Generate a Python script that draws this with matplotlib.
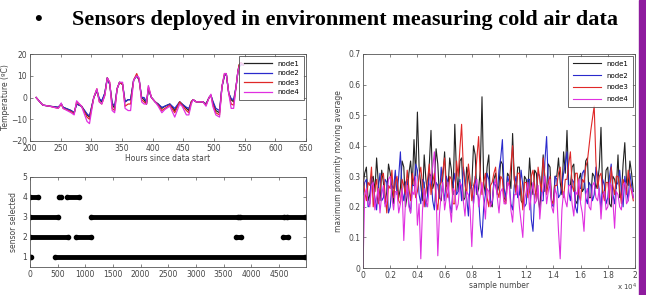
import matplotlib
matplotlib.use('Agg')
import matplotlib.pyplot as plt
from matplotlib.ticker import FuncFormatter, MultipleLocator

# --- temperature traces (top left) ---
hours = [210, 216, 221, 232, 246, 251, 254, 267, 272, 276, 284, 293, 297, 304, 309,
         313, 317, 322, 326, 330, 334, 338, 342, 346, 351, 355, 360, 364, 369, 374,
         378, 382, 386, 390, 393, 398, 404, 409, 415, 420, 428, 436, 444, 448, 455,
         459, 463, 466, 471, 482, 487, 492, 495, 498, 503, 509, 513, 517, 520, 524,
         528, 532, 536, 539, 541, 544, 548]
temp_node1 = [0, -2, -3.5, -4, -4.5, -3, -4.5, -6, -7, -3, -4, -8, -9, 0, 3, -1, -2, 2, 9, 6,
              -3, -5, 4, 7, 6, -2, -1, -1, 8, 10, 8, 0, -1, -3, 4, 0, -2, -3, -5, -4,
              -3, -6, -2, -3, -5, -6, -2, -1, -2, -2, -3, 0, 1, -2, -6, -7, 5, 10, 11, 2,
              -1, -2, 5, 12, 15, 16, 15]
temp_node2 = [0, -2, -3.5, -4, -4.5, -3, -4.5, -6, -7, -3, -4, -7.5, -8.5, 0, 3.5, -0.5, -1.5, 2, 9, 6,
              -2.5, -4, 4, 7, 6, -2, -1, -1, 8, 10, 8, 0, 0, -2, 4, 0, -2, -3, -4.5, -4,
              -3, -5, -2, -3, -4.5, -5, -2, -1, -2, -2, -3, 0, 1, -1.5, -5, -6, 5, 10, 11, 2,
              -0.5, -1, 5, 12, 14, 15, 15]
temp_node3 = [0, -2, -3.5, -4, -5, -3, -5, -6.5, -7.5, -2, -4, -9, -10, 0, 4, -2, -3, 1, 9, 7,
              -5, -6, 4, 7, 6, -4, -3, -3, 8, 11, 8, -1, -2, -3, 5, 0, -2, -3.5, -6, -5,
              -3.5, -7, -2, -3.5, -6, -7, -2, -1, -2, -2, -3.5, 0, 1, -3, -7, -8, 5, 11, 11, 2,
              -3, -3.5, 5, 12, 15, 16, 15]
temp_node4 = [0, -2, -3.5, -4, -5, -2.5, -5, -7, -8, -1.5, -4, -11, -12, 0, 4, -2, -3, 1, 9, 7,
              -6, -7, 4, 7, 7, -5, -6, -6, 8, 10, 9, -2, -3, -3, 5.5, 0, -2, -4, -7, -5.5,
              -4, -9, -3, -4, -8, -8, -3, -1, -2, -2, -4, 0, 1.5, -4, -8, -9, 5, 11, 11, 2,
              -5, -5, 5, 12, 14, 16, 15]

# --- sensor selection runs (bottom left): start, end, sensor ---
sel_start = [0, 450, 0, 830, 3720, 4580, 0, 1100, 3800, 4650, 0, 520, 660]
sel_end = [20, 4970, 690, 1100, 3810, 4670, 510, 3760, 4590, 4970, 140, 560, 885]
sel_sensor = [1, 1, 2, 2, 2, 2, 3, 3, 3, 3, 4, 4, 4]

# --- proximity moving average (right), one reading every 125 samples ---
samples = list(range(0, 20000, 125))
prox_node1 = [0.27, 0.31, 0.33, 0.22, 0.24, 0.29, 0.30, 0.25, 0.36, 0.28, 0.22, 0.32, 0.28, 0.21, 0.25, 0.34, 0.31, 0.26, 0.21, 0.30,
              0.29, 0.23, 0.26, 0.35, 0.33, 0.20, 0.24, 0.31, 0.35, 0.27, 0.42, 0.30, 0.51, 0.33, 0.27, 0.22, 0.37, 0.29, 0.24, 0.34,
              0.45, 0.26, 0.28, 0.39, 0.34, 0.23, 0.22, 0.30, 0.38, 0.27, 0.26, 0.36, 0.32, 0.24, 0.47, 0.31, 0.25, 0.35, 0.36, 0.22,
              0.23, 0.33, 0.30, 0.26, 0.27, 0.40, 0.37, 0.24, 0.26, 0.32, 0.56, 0.28, 0.24, 0.33, 0.37, 0.21, 0.20, 0.29, 0.31, 0.25,
              0.27, 0.35, 0.34, 0.23, 0.22, 0.31, 0.30, 0.26, 0.44, 0.29, 0.25, 0.33, 0.33, 0.22, 0.21, 0.30, 0.29, 0.25, 0.36, 0.28,
              0.24, 0.32, 0.31, 0.23, 0.19, 0.28, 0.37, 0.25, 0.26, 0.34, 0.33, 0.21, 0.22, 0.30, 0.30, 0.36, 0.28, 0.24, 0.38, 0.31,
              0.45, 0.27, 0.27, 0.33, 0.34, 0.22, 0.21, 0.29, 0.31, 0.25, 0.26, 0.35, 0.36, 0.23, 0.23, 0.31, 0.30, 0.26, 0.28, 0.33,
              0.46, 0.24, 0.25, 0.32, 0.33, 0.21, 0.20, 0.30, 0.29, 0.26, 0.37, 0.23, 0.24, 0.34, 0.41, 0.28, 0.27, 0.35, 0.31, 0.25]
prox_node2 = [0.24, 0.28, 0.29, 0.20, 0.21, 0.30, 0.27, 0.23, 0.19, 0.26, 0.31, 0.22, 0.23, 0.29, 0.28, 0.18, 0.20, 0.27, 0.26, 0.32,
              0.24, 0.30, 0.38, 0.25, 0.22, 0.28, 0.29, 0.21, 0.18, 0.27, 0.27, 0.34, 0.32, 0.24, 0.21, 0.29, 0.28, 0.20, 0.24, 0.31,
              0.30, 0.22, 0.19, 0.28, 0.27, 0.23, 0.33, 0.26, 0.22, 0.30, 0.28, 0.21, 0.18, 0.27, 0.31, 0.24, 0.25, 0.29, 0.22, 0.33,
              0.29, 0.23, 0.17, 0.28, 0.26, 0.21, 0.30, 0.25, 0.23, 0.14, 0.10, 0.20, 0.24, 0.31, 0.29, 0.22, 0.21, 0.28, 0.27, 0.24,
              0.32, 0.36, 0.42, 0.26, 0.23, 0.30, 0.28, 0.21, 0.19, 0.27, 0.30, 0.23, 0.24, 0.32, 0.27, 0.20, 0.21, 0.29, 0.29, 0.16,
              0.12, 0.24, 0.25, 0.31, 0.30, 0.22, 0.22, 0.35, 0.43, 0.28, 0.26, 0.21, 0.20, 0.30, 0.29, 0.23, 0.24, 0.27, 0.31, 0.34,
              0.38, 0.25, 0.22, 0.29, 0.28, 0.20, 0.18, 0.26, 0.26, 0.31, 0.32, 0.23, 0.21, 0.28, 0.27, 0.22, 0.24, 0.33, 0.30, 0.25,
              0.19, 0.29, 0.27, 0.21, 0.23, 0.30, 0.34, 0.24, 0.21, 0.27, 0.28, 0.32, 0.25, 0.20, 0.30, 0.26, 0.22, 0.31, 0.27, 0.23]
prox_node3 = [0.30, 0.25, 0.22, 0.28, 0.27, 0.33, 0.20, 0.26, 0.29, 0.21, 0.25, 0.30, 0.31, 0.24, 0.18, 0.27, 0.26, 0.32, 0.23, 0.28,
              0.30, 0.22, 0.21, 0.29, 0.27, 0.24, 0.32, 0.26, 0.22, 0.31, 0.28, 0.23, 0.25, 0.30, 0.33, 0.27, 0.20, 0.25, 0.29, 0.34,
              0.24, 0.28, 0.31, 0.22, 0.19, 0.27, 0.28, 0.32, 0.36, 0.25, 0.23, 0.30, 0.29, 0.21, 0.21, 0.35, 0.30, 0.39, 0.47, 0.33,
              0.27, 0.24, 0.34, 0.29, 0.22, 0.27, 0.29, 0.36, 0.43, 0.30, 0.24, 0.28, 0.31, 0.23, 0.20, 0.27, 0.28, 0.31, 0.33, 0.25,
              0.23, 0.30, 0.29, 0.22, 0.21, 0.28, 0.27, 0.34, 0.40, 0.29, 0.24, 0.31, 0.31, 0.26, 0.19, 0.28, 0.28, 0.23, 0.25, 0.30,
              0.32, 0.27, 0.22, 0.33, 0.29, 0.25, 0.36, 0.30, 0.24, 0.28, 0.30, 0.22, 0.21, 0.27, 0.27, 0.31, 0.33, 0.26, 0.23, 0.29,
              0.29, 0.34, 0.38, 0.27, 0.25, 0.31, 0.31, 0.24, 0.22, 0.29, 0.28, 0.33, 0.35, 0.40, 0.45, 0.49, 0.53, 0.35, 0.26, 0.30,
              0.31, 0.25, 0.22, 0.28, 0.28, 0.23, 0.33, 0.27, 0.24, 0.30, 0.30, 0.26, 0.21, 0.29, 0.27, 0.24, 0.32, 0.28, 0.25, 0.22]
prox_node4 = [0.00, 0.24, 0.26, 0.21, 0.20, 0.27, 0.28, 0.19, 0.23, 0.26, 0.18, 0.24, 0.27, 0.20, 0.22, 0.29, 0.30, 0.23, 0.19, 0.25,
              0.25, 0.18, 0.21, 0.26, 0.09, 0.22, 0.27, 0.20, 0.18, 0.25, 0.24, 0.30, 0.14, 0.21, 0.03, 0.19, 0.26, 0.22, 0.20, 0.27,
              0.29, 0.33, 0.38, 0.25, 0.04, 0.18, 0.24, 0.28, 0.19, 0.23, 0.28, 0.20, 0.15, 0.26, 0.25, 0.19, 0.21, 0.28, 0.27, 0.22,
              0.17, 0.25, 0.24, 0.19, 0.07, 0.21, 0.26, 0.29, 0.20, 0.24, 0.28, 0.22, 0.16, 0.26, 0.25, 0.20, 0.22, 0.27, 0.29, 0.23,
              0.18, 0.25, 0.26, 0.21, 0.21, 0.28, 0.27, 0.19, 0.15, 0.24, 0.24, 0.27, 0.20, 0.15, 0.10, 0.22, 0.25, 0.28, 0.19, 0.24,
              0.28, 0.21, 0.22, 0.27, 0.16, 0.23, 0.26, 0.30, 0.21, 0.25, 0.29, 0.20, 0.18, 0.26, 0.24, 0.12, 0.03, 0.19, 0.25, 0.22,
              0.20, 0.27, 0.27, 0.21, 0.17, 0.25, 0.24, 0.29, 0.21, 0.18, 0.12, 0.24, 0.26, 0.20, 0.19, 0.27, 0.28, 0.23, 0.22, 0.26,
              0.16, 0.24, 0.25, 0.19, 0.20, 0.28, 0.27, 0.22, 0.13, 0.25, 0.24, 0.20, 0.19, 0.27, 0.28, 0.21, 0.22, 0.26, 0.26, 0.23]

node_names = ['node1', 'node2', 'node3', 'node4']
node_colors = ['#222222', '#2a2acc', '#e02828', '#e030e0']

plt.rcParams['font.family'] = 'DejaVu Sans'
plt.rcParams['font.size'] = 5.5
plt.rcParams['axes.linewidth'] = 0.6
plt.rcParams['axes.edgecolor'] = '#555555'
plt.rcParams['xtick.color'] = '#555555'
plt.rcParams['ytick.color'] = '#555555'
plt.rcParams['xtick.labelcolor'] = '#444444'
plt.rcParams['ytick.labelcolor'] = '#444444'

W, H = 646, 295
fig = plt.figure(figsize=(W / 100, H / 100), dpi=100)
fig.patch.set_facecolor('white')


def px_axes(x0, y0, x1, y1):
    return fig.add_axes([x0 / W, 1 - y1 / H, (x1 - x0) / W, (y1 - y0) / H])


def matlab_ticks(ax):
    ax.tick_params(direction='in', top=True, right=True, length=2, width=0.5, pad=2)


def node_legend(ax, spacing):
    leg = ax.legend(loc='upper right', fontsize=5, handlelength=4, frameon=True, fancybox=False,
                    borderpad=0.7, labelspacing=spacing, borderaxespad=0.25)
    leg.get_frame().set_edgecolor('#444444')
    leg.get_frame().set_linewidth(0.7)


# title line
fig.text(38 / W, 1 - 20 / H, '\u2022', fontsize=16, fontweight='bold',
         family='Liberation Serif', ha='center', va='center')
fig.text(72 / W, 1 - 20 / H, 'Sensors deployed in environment measuring cold air data',
         fontsize=16, fontweight='bold', family='Liberation Serif', ha='left', va='center')

# purple edge bar
fig.patches.append(plt.Rectangle((639 / W, 0), 7 / W, 1, transform=fig.transFigure,
                                 color='#8e1b9e', zorder=0))

# top left: temperature
ax1 = px_axes(30, 54, 306, 141)
for vals, name, col in zip([temp_node1, temp_node2, temp_node3, temp_node4], node_names, node_colors):
    ax1.plot(hours, vals, color=col, lw=0.9, label=name)
ax1.set_xlim(200, 650)
ax1.set_ylim(-20, 20)
ax1.set_xticks(range(200, 651, 50))
ax1.set_yticks([-20, -10, 0, 10, 20])
ax1.set_xlabel('Hours since data start', labelpad=1, color='#444444')
ax1.set_ylabel('Temperature (\u00baC)', labelpad=1, color='#444444')
matlab_ticks(ax1)
node_legend(ax1, 0.5)

# bottom left: sensor selected
ax2 = px_axes(30, 177, 306, 267)
ax2.hlines(sel_sensor, sel_start, sel_end, colors='black', lw=3.5)
ax2.plot(sel_start, sel_sensor, 'o', color='black', ms=3)
ax2.plot(sel_end, sel_sensor, 'o', color='black', ms=3)
ax2.set_xlim(0, 4990)
ax2.set_ylim(0.5, 5)
ax2.set_xticks(range(0, 4501, 500))
ax2.set_yticks([1, 2, 3, 4, 5])
ax2.set_ylabel('sensor selected', labelpad=3, color='#444444')
matlab_ticks(ax2)

# right: proximity moving average
ax3 = px_axes(363, 54, 635, 268)
for vals, name, col in zip([prox_node1, prox_node2, prox_node3, prox_node4], node_names, node_colors):
    ax3.plot(samples, vals, color=col, lw=0.8, label=name)
ax3.set_xlim(0, 20000)
ax3.set_ylim(0, 0.7)
ax3.xaxis.set_major_locator(MultipleLocator(2000))
ax3.xaxis.set_major_formatter(FuncFormatter(lambda v, p: f'{v / 1e4:g}'))
ax3.yaxis.set_major_locator(MultipleLocator(0.1))
ax3.yaxis.set_major_formatter(FuncFormatter(lambda v, p: f'{v:g}'))
ax3.set_xlabel('sample number', labelpad=1, color='#444444')
ax3.set_ylabel('maximum proximity moving average', labelpad=4, color='#444444')
fig.text(637 / W, 1 - 287 / H, 'x 10$^4$', ha='right', va='center', fontsize=5, color='#444444')
matlab_ticks(ax3)
node_legend(ax3, 0.85)

fig.savefig('out.png', dpi=100)
